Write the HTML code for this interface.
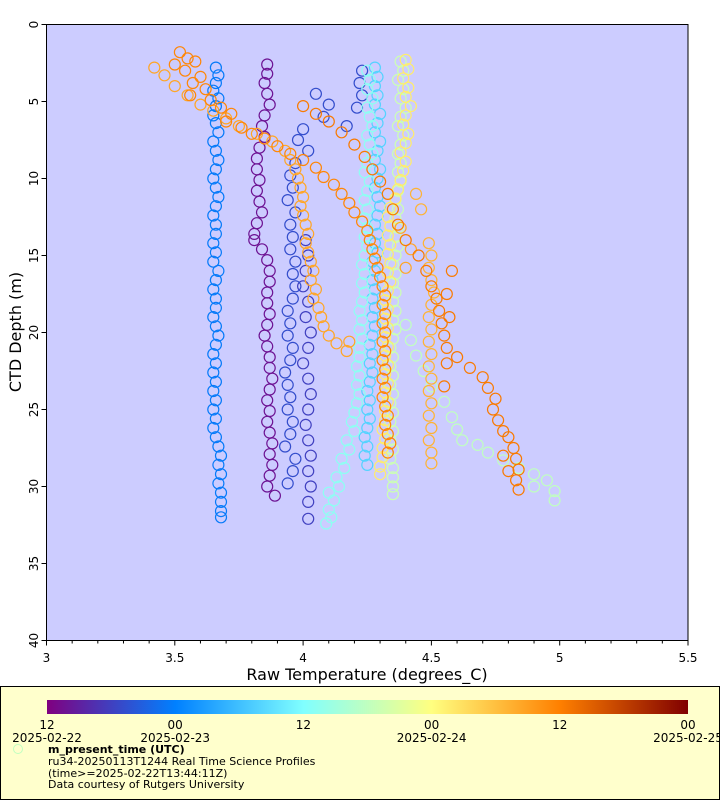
<!DOCTYPE html>
<html><head><meta charset="utf-8"><style>
body{margin:0;background:#fff;}
svg{display:block;font-family:"DejaVu Sans","Liberation Sans",sans-serif;}
</style></head><body>
<svg id="chart" width="720" height="800" viewBox="0 0 720 800">
<rect x="46.5" y="24.5" width="641.5" height="616" fill="#ccccff" stroke="none"/>
<g id="marks"></g>
<rect x="46.5" y="24.5" width="641.5" height="616" fill="none" stroke="#000" stroke-width="1"/>
<g id="axes"></g>
<text x="367" y="680" font-size="16" text-anchor="middle">Raw Temperature (degrees_C)</text>
<text transform="translate(21,332) rotate(-90)" font-size="16" text-anchor="middle">CTD Depth (m)</text>
<rect x="0.5" y="686.5" width="719" height="113" fill="#ffffcc" stroke="#000"/>
<defs><linearGradient id="cb" x1="0" x2="1" y1="0" y2="0">
<stop offset="0" stop-color="#800080"/><stop offset="0.2" stop-color="#0080ff"/><stop offset="0.4" stop-color="#80ffff"/><stop offset="0.6" stop-color="#ffff80"/><stop offset="0.8" stop-color="#ff8000"/><stop offset="1" stop-color="#800000"/>
</linearGradient></defs>
<rect x="47" y="700" width="641" height="14" fill="url(#cb)"/>
<g id="cbticks"></g>
<circle cx="18" cy="749" r="4.5" fill="none" stroke="#c0ffc0" stroke-width="1"/>
<text x="48" y="753" font-size="11" font-weight="bold">m_present_time (UTC)</text>
<text x="48" y="765" font-size="11">ru34-20250113T1244 Real Time Science Profiles</text>
<text x="48" y="777" font-size="11">(time&gt;=2025-02-22T13:44:11Z)</text>
<text x="48" y="788" font-size="11">Data courtesy of Rutgers University</text>
</svg>
<script>
const xTicks=[3,3.5,4,4.5,5,5.5];
const xTickLabels=["3","3.5","4","4.5","5","5.5"];
const yTicks=[0,5,10,15,20,25,30,35,40];
const cbTickLabels=["12","00","12","00","12","00"];
const cbDateLabels=["2025-02-22","2025-02-23","","2025-02-24","","2025-02-25"];
const profileTimes=[0.03,0.1,0.12,0.19,0.33,0.42,0.52,0.5,0.63,0.74,0.72,0.79,0.81];
const p0=[[3.86,2.6],[3.86,3.2],[3.85,3.8],[3.86,4.5],[3.87,5.2],[3.85,5.9],[3.84,6.6],[3.85,7.3],[3.83,8.0],[3.82,8.7],[3.82,9.4],[3.83,10.1],[3.82,10.8],[3.83,11.5],[3.84,12.2],[3.82,12.9],[3.81,13.6],[3.81,14.0],[3.84,14.6],[3.86,15.3],[3.87,16.0],[3.87,16.7],[3.86,17.4],[3.86,18.1],[3.87,18.8],[3.86,19.5],[3.85,20.2],[3.86,20.9],[3.87,21.6],[3.87,22.3],[3.88,23.0],[3.87,23.7],[3.86,24.4],[3.87,25.1],[3.86,25.8],[3.87,26.5],[3.88,27.2],[3.87,27.9],[3.88,28.6],[3.87,29.3],[3.86,30.0],[3.89,30.6]];
const p1=[[4.01,14],[4.02,15],[4.01,16],[4.0,17],[4.02,18],[4.01,19],[4.03,20],[4.02,21],[4.0,22],[4.02,23],[4.03,24],[4.02,25],[4.01,26],[4.02,27],[4.03,28],[4.02,29],[4.03,30],[4.02,31],[4.02,32.1]];
const p2=[[4.23,3.0],[4.22,3.8],[4.23,4.6],[4.21,5.4],[4.17,6.6],[4.05,4.5],[4.1,5.2],[4.08,6],[4.0,6.8],[3.98,7.5],[4.02,8.2],[3.97,9],[3.95,9.8],[3.96,10.6],[3.94,11.4],[3.97,12.2],[3.95,13],[3.96,13.8],[3.95,14.6],[3.97,15.4],[3.96,16.2],[3.97,17],[3.96,17.8],[3.94,18.6],[3.95,19.4],[3.94,20.2],[3.96,21],[3.95,21.8],[3.93,22.6],[3.94,23.4],[3.95,24.2],[3.94,25],[3.96,25.8],[3.95,26.6],[3.93,27.4],[3.97,28.2],[3.96,29],[3.94,29.8]];
const p3=[[3.66,2.8],[3.67,3.3],[3.66,3.8],[3.65,4.3],[3.67,4.8],[3.66,5.3],[3.65,5.9],[3.66,6.4],[3.67,7.0],[3.65,7.6],[3.66,8.2],[3.67,8.8],[3.66,9.4],[3.65,10.0],[3.66,10.6],[3.67,11.2],[3.66,11.8],[3.65,12.4],[3.66,13.0],[3.66,13.6],[3.65,14.2],[3.66,14.8],[3.65,15.4],[3.67,16.0],[3.66,16.6],[3.65,17.2],[3.66,17.8],[3.66,18.4],[3.65,19.0],[3.66,19.6],[3.67,20.2],[3.66,20.8],[3.65,21.4],[3.66,22.0],[3.65,22.6],[3.66,23.2],[3.65,23.8],[3.66,24.4],[3.65,25.0],[3.66,25.6],[3.65,26.2],[3.66,26.8],[3.67,27.4],[3.68,28.0],[3.67,28.6],[3.68,29.2],[3.67,29.8],[3.68,30.4],[3.68,31.0],[3.68,31.6],[3.68,32.0]];
const p4=[[4.28,2.8],[4.29,3.4],[4.28,4.0],[4.29,4.6],[4.28,5.2],[4.3,5.8],[4.29,6.4],[4.28,7.0],[4.3,7.6],[4.29,8.2],[4.28,8.8],[4.3,9.4],[4.29,10.0],[4.28,10.6],[4.29,11.2],[4.3,11.8],[4.29,12.4],[4.28,13.0],[4.29,13.6],[4.28,14.2],[4.29,14.8],[4.27,15.4],[4.28,16.0],[4.27,16.6],[4.28,17.2],[4.27,17.8],[4.28,18.4],[4.27,19.0],[4.28,19.6],[4.27,20.2],[4.26,20.8],[4.27,21.4],[4.26,22.0],[4.27,22.6],[4.26,23.2],[4.25,23.8],[4.26,24.4],[4.25,25.0],[4.26,25.6],[4.25,26.2],[4.24,26.8],[4.25,27.4],[4.24,28.0],[4.25,28.6]];
const p5=[[4.25,3.0],[4.26,3.6],[4.25,4.2],[4.27,4.8],[4.25,5.4],[4.26,6.0],[4.27,6.6],[4.25,7.2],[4.26,7.8],[4.27,8.4],[4.25,9.0],[4.24,9.6],[4.26,10.2],[4.25,10.8],[4.24,11.4],[4.25,12.0],[4.24,12.6],[4.25,13.2],[4.24,13.8],[4.25,14.4],[4.24,15.0],[4.23,15.6],[4.24,16.2],[4.23,16.8],[4.24,17.4],[4.23,18.0],[4.22,18.6],[4.23,19.2],[4.22,19.8],[4.23,20.4],[4.22,21.0],[4.22,21.6],[4.21,22.2],[4.22,22.8],[4.21,23.4],[4.22,24.0],[4.21,24.6],[4.2,25.2],[4.19,25.8],[4.2,26.4],[4.17,27.0],[4.18,27.6],[4.15,28.2],[4.16,28.8],[4.13,29.4],[4.14,30.0],[4.1,30.4],[4.12,30.9],[4.1,31.5],[4.11,32.0],[4.09,32.4]];
const p6=[[4.38,2.4],[4.39,3.0],[4.37,3.6],[4.39,4.2],[4.38,4.8],[4.4,5.4],[4.38,6.0],[4.37,6.6],[4.39,7.2],[4.38,7.8],[4.37,8.4],[4.38,9.0],[4.37,9.6],[4.38,10.2],[4.37,10.8],[4.36,11.4],[4.37,12.0],[4.36,12.6],[4.37,13.2],[4.36,13.8],[4.37,14.4],[4.36,15.0],[4.35,15.6],[4.36,16.2],[4.35,16.8],[4.36,17.4],[4.35,18.0],[4.36,18.6],[4.35,19.2],[4.36,19.8],[4.35,20.4],[4.34,21.0],[4.35,21.6],[4.34,22.2],[4.35,22.8],[4.34,23.4],[4.35,24.0],[4.34,24.6],[4.35,25.2],[4.34,25.8],[4.35,26.4],[4.34,27.0],[4.35,27.6],[4.34,28.2],[4.35,28.8],[4.35,29.4],[4.35,30.0],[4.35,30.5]];
const p7=[[4.4,19.5],[4.42,20.5],[4.44,21.5],[4.47,22.5],[4.5,23.5],[4.55,24.5],[4.58,25.5],[4.6,26.3],[4.62,27.0],[4.68,27.3],[4.72,27.8],[4.78,28.3],[4.84,28.8],[4.9,29.2],[4.95,29.6],[4.98,30.3],[4.98,30.9],[4.9,30.0]];
const p8=[[4.4,2.3],[4.41,2.9],[4.39,3.5],[4.41,4.1],[4.4,4.7],[4.42,5.3],[4.4,5.9],[4.39,6.5],[4.41,7.1],[4.4,7.7],[4.38,8.3],[4.4,8.9],[4.39,9.5],[4.38,10.1],[4.37,10.7],[4.36,11.3],[4.34,11.9],[4.33,12.5],[4.34,13.1],[4.33,13.7],[4.34,14.3],[4.33,14.9],[4.34,15.5],[4.33,16.1],[4.34,16.7],[4.33,17.3],[4.32,17.9],[4.33,18.5],[4.32,19.1],[4.33,19.7],[4.32,20.3],[4.33,20.9],[4.32,21.5],[4.33,22.1],[4.32,22.7],[4.33,23.3],[4.32,23.9],[4.33,24.5],[4.32,25.1],[4.32,25.7],[4.31,26.3],[4.32,26.9],[4.31,27.5],[4.31,28.1],[4.3,28.7],[4.3,29.2]];
const p9=[[3.42,2.8],[3.46,3.3],[3.5,4.0],[3.55,4.6],[3.6,5.2],[3.65,5.6],[3.7,6.1],[3.75,6.6],[3.82,7.1],[3.88,7.6],[3.93,8.2],[3.95,8.8],[3.97,9.4],[3.98,10.0],[3.99,10.6],[4.0,11.2],[3.99,11.8],[4.0,12.4],[4.01,13.0],[4.02,13.6],[4.01,14.2],[4.02,14.8],[4.03,15.4],[4.04,16.0],[4.03,16.6],[4.05,17.2],[4.04,17.8],[4.06,18.4],[4.07,19.0],[4.08,19.6],[4.1,20.2],[4.13,20.7],[4.17,21.2],[4.18,20.6],[4.38,13.2],[4.42,14.6],[4.4,15.8]];
const p10=[[4.49,14.2],[4.5,15.0],[4.49,15.8],[4.5,16.6],[4.51,17.4],[4.5,18.2],[4.49,19.0],[4.5,19.8],[4.49,20.6],[4.5,21.4],[4.49,22.2],[4.5,23.0],[4.49,23.8],[4.5,24.6],[4.49,25.4],[4.5,26.2],[4.49,27.0],[4.5,27.8],[4.5,28.5],[4.46,12.0],[4.44,11.0]];
const p11=[[3.52,1.8],[3.55,2.2],[3.5,2.6],[3.58,2.4],[3.54,3.0],[3.6,3.4],[3.57,3.8],[3.62,4.2],[3.56,4.6],[3.64,4.9],[3.68,5.4],[3.72,5.8],[3.7,6.3],[3.76,6.7],[3.8,7.1],[3.85,7.4],[3.9,7.9],[3.95,8.4],[4.0,8.8],[4.05,9.3],[4.08,9.9],[4.12,10.4],[4.15,11.0],[4.18,11.6],[4.2,12.2],[4.23,12.8],[4.25,13.4],[4.26,14.0],[4.27,14.6],[4.28,15.2],[4.29,15.8],[4.3,16.4],[4.31,17.0],[4.32,17.6],[4.31,18.2],[4.32,18.8],[4.31,19.4],[4.32,20.0],[4.31,20.6],[4.32,21.2],[4.31,21.8],[4.32,22.4],[4.31,23.0],[4.32,23.6],[4.31,24.2],[4.32,24.8],[4.33,25.4],[4.32,26.0],[4.33,26.6],[4.34,27.2],[4.33,27.8]];
const p12=[[4.0,5.3],[4.05,5.8],[4.1,6.3],[4.15,7.0],[4.2,7.8],[4.24,8.6],[4.27,9.4],[4.3,10.2],[4.33,11.0],[4.35,12.0],[4.37,13.0],[4.4,14.0],[4.45,15.0],[4.48,16.0],[4.5,17.0],[4.52,17.8],[4.53,18.6],[4.54,19.4],[4.55,20.2],[4.56,21.0],[4.6,21.6],[4.65,22.3],[4.7,22.9],[4.72,23.6],[4.75,24.3],[4.74,25.0],[4.76,25.7],[4.78,26.4],[4.8,26.8],[4.82,27.5],[4.83,28.2],[4.84,28.9],[4.83,29.6],[4.84,30.2],[4.8,29.0],[4.78,28.0],[4.58,16.0],[4.56,17.5],[4.57,19.0],[4.56,22.0],[4.55,23.5]];
const profiles=[p0,p1,p2,p3,p4,p5,p6,p7,p8,p9,p10,p11,p12];

const X0=46.5,X1=688,Y0=24.5,Y1=640.5;
const xScale=t=>X0+(t-3)/2.5*(X1-X0);
const yScale=d=>Y0+d/40*(Y1-Y0);
const stops=[[0,[128,0,128]],[0.2,[0,128,255]],[0.4,[128,255,255]],[0.6,[255,255,128]],[0.8,[255,128,0]],[1,[128,0,0]]];
function colorAt(f){for(let i=0;i<stops.length-1;i++){const a=stops[i],b=stops[i+1];if(f<=b[0]){const u=(f-a[0])/(b[0]-a[0]);return 'rgb('+a[1].map((c,k)=>Math.round(c+(b[1][k]-c)*u)).join(',')+')';}}return 'rgb(128,0,0)';}
const NS='http://www.w3.org/2000/svg';
const marks=document.getElementById('marks');
profiles.forEach((prof,pi)=>{
  const g=document.createElementNS(NS,'g');
  
  
  const col=colorAt(profileTimes[pi]);
  prof.forEach(p=>{
    const c=document.createElementNS(NS,'circle');
    c.setAttribute('cx',xScale(p[0]).toFixed(1));
    c.setAttribute('cy',yScale(p[1]).toFixed(1));
    c.setAttribute('r','5.5');
    c.setAttribute('fill','none');
    c.setAttribute('stroke',col);
    c.setAttribute('stroke-width','1.2');
    
    
    g.appendChild(c);
  });
  marks.appendChild(g);
});
const axes=document.getElementById('axes');
function line(x1,y1,x2,y2,name){const l=document.createElementNS(NS,'line');l.setAttribute('x1',x1);l.setAttribute('y1',y1);l.setAttribute('x2',x2);l.setAttribute('y2',y2);l.setAttribute('stroke','#000');


axes.appendChild(l);}
function text(x,y,s,str,anchor,rot,name,parent){const t=document.createElementNS(NS,'text');t.setAttribute('x',x);t.setAttribute('y',y);t.setAttribute('font-size',s);t.setAttribute('text-anchor',anchor);if(rot)t.setAttribute('transform',rot);t.textContent=str;


(parent||axes).appendChild(t);}
for(let v=3;v<=5.5001;v+=0.1){const x=xScale(v);const major=Math.abs(v*2-Math.round(v*2))<1e-6;line(x,Y1,x,Y1+(major?5:3),'x-tick');}
xTicks.forEach((v,i)=>text(xScale(v),662,12,xTickLabels[i],'middle',null,'x-tick-label'));
yTicks.forEach(v=>{const y=yScale(v);line(X0-5,y,X0,y,'y-tick');text(38,y,12,String(v),'middle','rotate(-90 38 '+y+')','y-tick-label');});
const cbg=document.getElementById('cbticks');
cbTickLabels.forEach((s,i)=>{const x=47+i*641/5;text(x,729,12,s,'middle',null,'colorbar-tick-label',cbg);if(cbDateLabels[i])text(x,742,12,cbDateLabels[i],'middle',null,'colorbar-date-label',cbg);});
</script>
</body></html>
